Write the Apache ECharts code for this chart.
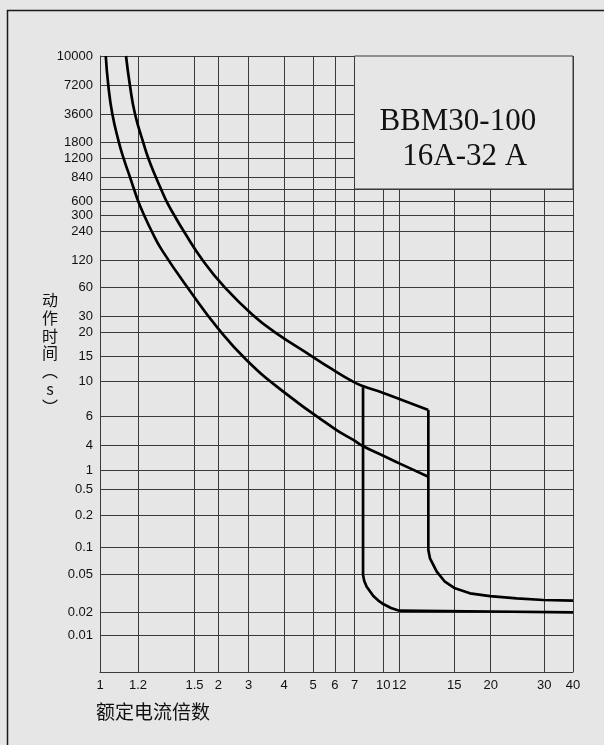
<!DOCTYPE html>
<html>
<head>
<meta charset="utf-8">
<script src="https://cdn.jsdelivr.net/npm/echarts@6/dist/echarts.min.js"></script>
<style>
html,body{margin:0;padding:0;background:#e6e6e6;}
#chart{width:604px;height:745px;}
</style>
</head>
<body>
<div id="chart"></div>
<script>
// ---------------- data ----------------
// x: multiple of rated current, y: operating time (s)
const xTickValues = [1, 1.2, 1.5, 2, 3, 4, 5, 6, 7, 10, 12, 15, 20, 30, 40];
const xTickLabels = ['1', '1.2', '1.5', '2', '3', '4', '5', '6', '7', '10', '12', '15', '20', '30', '40'];
const yTickValues = [0.005, 0.01, 0.02, 0.05, 0.1, 0.2, 0.5, 1, 4, 6, 10, 15, 20, 30, 60, 120, 240, 300, 600, 720, 840, 1200, 1800, 3600, 7200, 10000];
const yTickLabels = ['', '0.01', '0.02', '0.05', '0.1', '0.2', '0.5', '1', '4', '6', '10', '15', '20', '30', '60', '120', '240', '300', '600', '', '840', '1200', '1800', '3600', '7200', '10000'];

const lowerThermal = [[1.028,10000],[1.041,7150],[1.061,3600],[1.095,1800],[1.12,1200],[1.155,840],[1.177,720],[1.202,600],[1.229,300],[1.266,240],[1.319,152],[1.482,52.8],[1.988,22.1],[2.928,14.1],[3.977,8.63],[5.95,5.07],[6.93,4.31],[7.75,3.85],[10,2.25],[12,1.47],[13.5,0.79]];
const upperThermal = [[1.133,10000],[1.155,7150],[1.183,3600],[1.225,1800],[1.25,1200],[1.288,840],[1.314,720],[1.344,600],[1.384,300],[1.437,240],[1.651,120],[2.184,60],[3.142,30],[3.719,20],[4.96,15],[5.80,12.35],[6.92,10],[7.75,9.39],[10,8.46],[12,7.75],[13.5,6.59]];
const upperInstant = [[13.5,6.59],[13.5,0.093],[13.59,0.075],[13.97,0.0534],[14.44,0.0418],[15.08,0.0357],[16.98,0.0316],[19.89,0.0296],[24.35,0.028],[29.78,0.0269],[40,0.0265]];
const lowerInstant = [[7.78,9.2],[7.78,0.0492],[7.9,0.0426],[8.14,0.0371],[8.84,0.0296],[9.37,0.0267],[10,0.0244],[10.92,0.0222],[12,0.0208],[20,0.0204],[40,0.02]];

const boxTitleLines = ['BBM30-100', '16A-32 A'];
const yName = '动\n作\n时\n间\n︵\ns\n︶';
const xName = '额定电流倍数';

// ---------------- scale layout (non-uniform printed axes, per-mille of axis length) ----------------
const xScalePos = [0, 80.3, 199.8, 250.5, 314.0, 389.0, 450.3, 496.8, 538.1, 598.9, 632.8, 749.0, 826.0, 939.3, 1000];
const yScalePos = [0, 58.9, 96.9, 158.6, 202.9, 254.4, 296.6, 327.4, 368.0, 415.1, 471.3, 512.5, 551.5, 577.4, 623.9, 668.8, 715.9, 741.9, 763.5, 784.1, 803.1, 833.9, 859.9, 905.8, 951.8, 1000];

function makeScale(vals, pos) {
  return function (v) {
    if (v <= vals[0]) return pos[0];
    for (let i = 0; i < vals.length - 1; i++) {
      if (v <= vals[i + 1]) {
        const t = (Math.log(v) - Math.log(vals[i])) / (Math.log(vals[i + 1]) - Math.log(vals[i]));
        return pos[i] + t * (pos[i + 1] - pos[i]);
      }
    }
    return pos[pos.length - 1];
  };
}
const xs = makeScale(xTickValues, xScalePos);
const ys = makeScale(yTickValues, yScalePos);
const mapPts = pts => pts.map(p => [xs(p[0]), ys(p[1])]);

function labelLookup(pos, labels) {
  return function (v) {
    for (let i = 0; i < pos.length; i++) if (Math.abs(pos[i] - v) < 1e-6) return labels[i];
    return '';
  };
}

const BG = '#e6e6e6';
const GRID = '#3a3a3a';
const INK = '#111';
const CURVE = { color: '#000', width: 2.7 };
const SERIF = 'Liberation Serif, "Times New Roman", serif';

const chart = echarts.init(document.getElementById('chart'), null, { renderer: 'canvas' });

const yCustom = yScalePos.slice(1);

const option = {
  backgroundColor: BG,
  animation: false,
  grid: { left: 100, top: 56, width: 473, height: 616, containLabel: false, outerBoundsMode: 'none' },
  xAxis: {
    type: 'value', min: 0, max: 1000,
    axisLine: { show: true, onZero: false, lineStyle: { color: GRID, width: 1 } },
    axisTick: { show: false, customValues: xScalePos },
    axisLabel: {
      customValues: xScalePos, formatter: labelLookup(xScalePos, xTickLabels),
      color: INK, fontSize: 13, margin: 7, fontFamily: 'Liberation Sans, Arial, sans-serif'
    },
    splitLine: { show: true, lineStyle: { color: GRID, width: 1 } }
  },
  yAxis: {
    type: 'value', min: 0, max: 1000,
    axisLine: { show: true, onZero: false, lineStyle: { color: GRID, width: 1 } },
    axisTick: { show: false, customValues: yCustom },
    axisLabel: {
      customValues: yCustom, formatter: labelLookup(yScalePos, yTickLabels),
      color: INK, fontSize: 13, margin: 7, fontFamily: 'Liberation Sans, Arial, sans-serif'
    },
    splitLine: { show: true, lineStyle: { color: GRID, width: 1 } }
  },
  series: [
    {
      name: 'lowerThermal', type: 'line', data: mapPts(lowerThermal), symbol: 'none',
      smooth: 0.5, lineStyle: CURVE, z: 5,
      markArea: {
        silent: true,
        itemStyle: { color: BG, borderColor: GRID, borderWidth: 1 },
        label: {
          show: true, position: 'inside',
          formatter: '{a|' + boxTitleLines[0] + '}\n{b|' + boxTitleLines[1] + '}',
          offset: [0, 17], align: 'center',
          rich: {
            a: { fontFamily: SERIF, fontSize: 31, lineHeight: 35, color: INK, padding: [0, 12, 0, 0] },
            b: { fontFamily: SERIF, fontSize: 31, lineHeight: 35, color: INK, padding: [0, 0, 0, 2] }
          }
        },
        data: [[{ coord: [xs(7), ys(720)] }, { coord: [xs(40), ys(10000)] }]]
      }
    },
    { name: 'upperThermal', type: 'line', data: mapPts(upperThermal), symbol: 'none', smooth: 0.5, lineStyle: CURVE, z: 5 },
    { name: 'upperInstant', type: 'line', data: mapPts(upperInstant), symbol: 'none', lineStyle: CURVE, z: 5 },
    { name: 'lowerInstant', type: 'line', data: mapPts(lowerInstant), symbol: 'none', lineStyle: CURVE, z: 5 }
  ],
  graphic: [
    { type: 'rect', shape: { x: 7.5, y: 10.5, width: 900, height: 900 }, style: { fill: 'transparent', stroke: '#1a1a1a', lineWidth: 1.5 }, silent: true },
    { type: 'text', x: 50, y: 291, style: { text: yName, fill: INK, font: '16px "Noto Sans CJK SC"', lineHeight: 17.8, align: 'center', verticalAlign: 'top' }, silent: true },
    { type: 'text', x: 96, y: 712, style: { text: xName, fill: INK, font: '19px "Noto Sans CJK SC"', align: 'left', verticalAlign: 'middle' }, silent: true }
  ]
};
chart.setOption(option);
</script>
</body>
</html>
